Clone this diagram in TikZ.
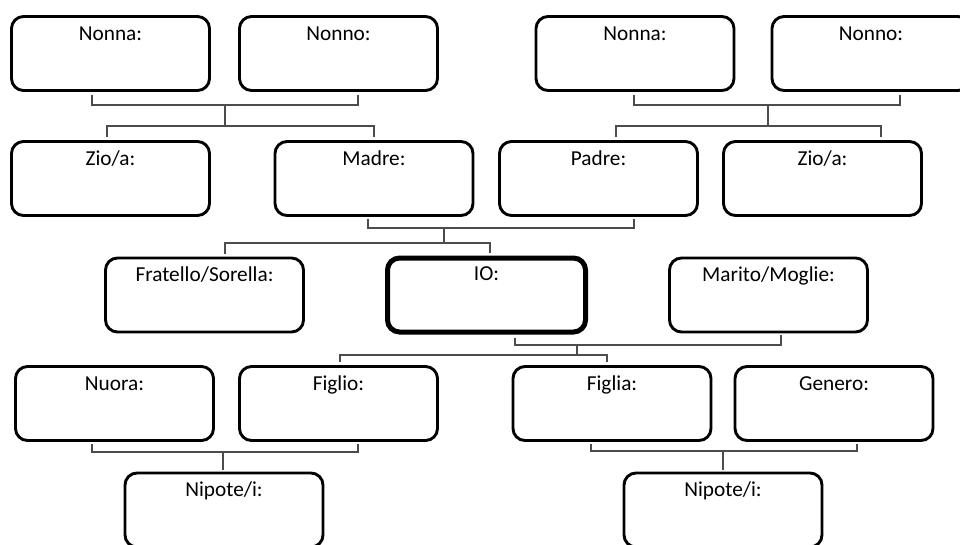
\documentclass[tikz,border=0pt]{standalone}
\usepackage{fontspec}
\setmainfont{Carlito}
\begin{document}
\begin{tikzpicture}[x=1pt,y=-1pt,
  box/.style={draw=black, line width=2.9pt, rounded corners=12pt, minimum width=198pt, minimum height=74pt, inner sep=0pt},
  mebox/.style={box, line width=5pt},
  lbl/.style={anchor=base, inner sep=0pt, text=black, font=\fontsize{21.3}{25}\selectfont},
  conn/.style={draw=black!70, line width=1.1pt}]
\useasboundingbox (0,0) rectangle (960,544);
\clip (0,0) rectangle (960,544);
\fill[white] (0,0) rectangle (960,544);

% Row 1
\node[box] (nonnaL) at (110.5,53.5) {};
\node[box] (nonnoL) at (338.5,53.5) {};
\node[box] (nonnaR) at (635,53.5) {};
\node[box] (nonnoR) at (871,53.5) {};
% Row 2
\node[box] (zioL) at (110.5,178.5) {};
\node[box] (madre) at (374,178.5) {};
\node[box] (padre) at (598.5,178.5) {};
\node[box] (zioR) at (822.5,178.5) {};
% Row 3
\node[box] (frat) at (204.5,295) {};
\node[mebox] (io) at (486.5,295) {};
\node[box] (marito) at (768.5,295) {};
% Row 4
\node[box] (nuora) at (114.5,403.5) {};
\node[box] (figlio) at (338.5,403.5) {};
\node[box] (figlia) at (612,403.5) {};
\node[box] (genero) at (834,403.5) {};
% Row 5
\node[box] (nipL) at (224,510) {};
\node[box] (nipR) at (723,510) {};

% Labels
\node[lbl] (tnonnaL) at ([yshift=-25pt]nonnaL.north) {Nonna:};
\node[lbl] (tnonnoL) at ([yshift=-25pt]nonnoL.north) {Nonno:};
\node[lbl] (tnonnaR) at ([yshift=-25pt]nonnaR.north) {Nonna:};
\node[lbl] (tnonnoR) at ([yshift=-25pt]nonnoR.north) {Nonno:};
\node[lbl] (tzioL) at ([yshift=-25pt]zioL.north) {Zio/a:};
\node[lbl] (tmadre) at ([yshift=-25pt]madre.north) {Madre:};
\node[lbl] (tpadre) at ([yshift=-25pt]padre.north) {Padre:};
\node[lbl] (tzioR) at ([yshift=-25pt]zioR.north) {Zio/a:};
\node[lbl] (tfrat) at ([yshift=-25pt]frat.north) {Fratello/Sorella:};
\node[lbl] (tio) at ([yshift=-25pt]io.north) {IO:};
\node[lbl] (tmarito) at ([yshift=-25pt]marito.north) {Marito/Moglie:};
\node[lbl] (tnuora) at ([yshift=-25pt]nuora.north) {Nuora:};
\node[lbl] (tfiglio) at ([yshift=-25pt]figlio.north) {Figlio:};
\node[lbl] (tfiglia) at ([yshift=-25pt]figlia.north) {Figlia:};
\node[lbl] (tgenero) at ([yshift=-25pt]genero.north) {Genero:};
\node[lbl] (tnipL) at ([yshift=-25pt]nipL.north) {Nipote/i:};
\node[lbl] (tnipR) at ([yshift=-25pt]nipR.north) {Nipote/i:};

% Junction coordinates
\coordinate (j1) at (225,105);
\coordinate (j2) at (768,105);
\coordinate (j3) at (444,228);
\coordinate (j4) at (577,345);
\coordinate (j5) at (223,452);
\coordinate (j6) at (723,451);

% Grandparents left -> Zio/a, Madre
\draw[conn] ([xshift=-18.5pt,yshift=-3pt]nonnaL.south) |- (j1) -| ([xshift=19.5pt,yshift=-3pt]nonnoL.south);
\draw[conn] (j1) -- (225,126);
\draw[conn] ([xshift=-3.5pt,yshift=3pt]zioL.north) |- (225,126) -| ([yshift=3pt]madre.north);
% Grandparents right -> Padre, Zio/a
\draw[conn] ([xshift=-1pt,yshift=-3pt]nonnaR.south) |- (j2) -| ([xshift=29pt,yshift=-3pt]nonnoR.south);
\draw[conn] (j2) -- (768,126);
\draw[conn] ([xshift=17.5pt,yshift=3pt]padre.north) |- (768,126) -| ([xshift=58.5pt,yshift=3pt]zioR.north);
% Madre + Padre -> Fratello/Sorella, IO
\draw[conn] ([xshift=-6pt,yshift=-2pt]madre.south) |- (j3) -| ([xshift=35.5pt,yshift=-2pt]padre.south);
\draw[conn] (j3) -- (444,243);
\draw[conn] ([xshift=20.5pt,yshift=3pt]frat.north) |- (444,243) -| ([xshift=3.5pt,yshift=3pt]io.north);
% IO + Marito -> Figlio, Figlia
\draw[conn] ([xshift=28.5pt,yshift=-3pt]io.south) |- (j4) -| ([xshift=12.5pt,yshift=-2pt]marito.south);
\draw[conn] (j4) -- (577,355);
\draw[conn] ([xshift=1.5pt,yshift=3pt]figlio.north) |- (577,355) -| ([xshift=-5pt,yshift=3pt]figlia.north);
% Nuora + Figlio -> Nipote
\draw[conn] ([xshift=-22.5pt,yshift=-2pt]nuora.south) |- (j5) -| ([xshift=19.5pt,yshift=-2pt]figlio.south);
\draw[conn] (j5) -- ([xshift=-1pt,yshift=2pt]nipL.north);
% Figlia + Genero -> Nipote
\draw[conn] ([xshift=-21pt,yshift=-2pt]figlia.south) |- (j6) -| ([xshift=23pt,yshift=-2pt]genero.south);
\draw[conn] (j6) -- ([yshift=2pt]nipR.north);
\end{tikzpicture}
\end{document}
